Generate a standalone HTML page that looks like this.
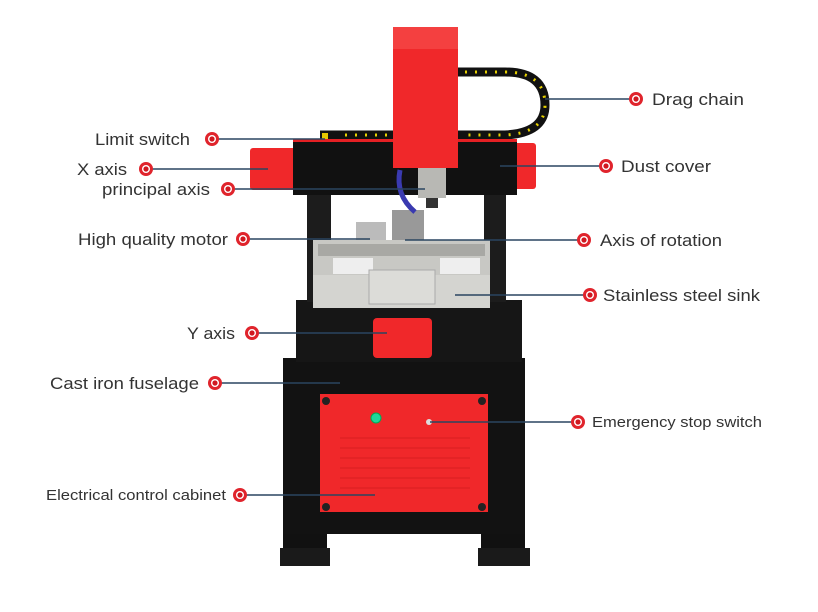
<!DOCTYPE html>
<html><head><meta charset="utf-8"><style>
html,body{margin:0;padding:0;background:#fff;}
svg{display:block}
text{font-family:"Liberation Sans",sans-serif;fill:#333;}
</style></head><body>
<svg width="818" height="612" viewBox="0 0 818 612" xmlns="http://www.w3.org/2000/svg">
<defs>
<g id="m"><circle r="7" fill="#e0242c"/><circle r="4" fill="#fff"/><circle r="2.6" fill="#d01820"/></g>
</defs>
<rect x="283" y="520" width="44" height="44" fill="#111"/>
<rect x="481" y="520" width="44" height="44" fill="#111"/>
<rect x="280" y="548" width="50" height="18" fill="#1a1a1a"/>
<rect x="478" y="548" width="52" height="18" fill="#1a1a1a"/>
<rect x="283" y="358" width="242" height="176" fill="#121212"/>
<rect x="320" y="394" width="168" height="118" fill="#f0282a"/>
<g stroke="#d81e20" stroke-width="1">
<line x1="340" y1="438" x2="470" y2="438"/><line x1="340" y1="448" x2="470" y2="448"/>
<line x1="340" y1="458" x2="470" y2="458"/><line x1="340" y1="468" x2="470" y2="468"/>
<line x1="340" y1="478" x2="470" y2="478"/><line x1="340" y1="488" x2="470" y2="488"/></g>
<circle cx="326" cy="401" r="4" fill="#222"/><circle cx="482" cy="401" r="4" fill="#222"/>
<circle cx="326" cy="507" r="4" fill="#222"/><circle cx="482" cy="507" r="4" fill="#222"/>
<circle cx="376" cy="418" r="5" fill="#1fd69a" stroke="#0a5" stroke-width="1"/>
<circle cx="429" cy="422" r="3" fill="#ddd"/>
<rect x="296" y="300" width="226" height="62" fill="#161616"/>
<rect x="373" y="318" width="59" height="40" rx="4" fill="#f0282a"/>
<rect x="307" y="192" width="24" height="110" fill="#1c1c1c"/>
<rect x="484" y="192" width="22" height="110" fill="#1c1c1c"/>
<rect x="356" y="222" width="30" height="40" fill="#bbb"/>
<rect x="392" y="210" width="32" height="50" fill="#999"/>
<rect x="376" y="250" width="60" height="34" fill="#2a5a3a"/>
<circle cx="403" cy="258" r="13" fill="none" stroke="#eee" stroke-width="4"/>
<rect x="313" y="240" width="177" height="68" fill="#c8c8c4"/>
<rect x="318" y="244" width="167" height="12" fill="#a8a8a4"/>
<rect x="333" y="258" width="40" height="16" fill="#eee"/>
<rect x="440" y="258" width="40" height="16" fill="#eee"/>
<rect x="313" y="275" width="177" height="33" fill="#d4d4d0"/>
<rect x="369" y="270" width="66" height="34" fill="#dcdcd8" stroke="#aaa" stroke-width="1"/>
<path d="M455 72 L505 72 Q545 72 545 105 Q545 133 505 135 L455 135" fill="none" stroke="#111" stroke-width="9"/>
<path d="M465 72 L505 72 Q545 72 545 105 Q545 133 505 135 L465 135" fill="none" stroke="#e6d000" stroke-width="3" stroke-dasharray="2 8"/>
<path d="M320 135 L395 135" stroke="#111" stroke-width="9"/>
<path d="M345 135 L395 135" stroke="#e6d000" stroke-width="3" stroke-dasharray="2 8"/>
<rect x="322" y="133" width="6" height="6" fill="#e6c800"/>
<rect x="250" y="148" width="48" height="42" rx="3" fill="#f0282a"/>
<rect x="512" y="143" width="24" height="46" rx="3" fill="#f0282a"/>
<rect x="293" y="139" width="224" height="56" fill="#111"/>
<rect x="293" y="139" width="224" height="3" fill="#e52024"/>
<rect x="418" y="166" width="28" height="32" fill="#b8b8b4"/>
<rect x="426" y="198" width="12" height="10" fill="#333"/>
<path d="M400 170 Q395 195 415 212" fill="none" stroke="#3a3ab0" stroke-width="5"/>
<rect x="393" y="27" width="65" height="141" fill="#f0282a"/>
<rect x="393" y="27" width="65" height="22" fill="#f44040"/>
<g stroke="#2a4560" stroke-width="1.6">
<line x1="545" y1="99" x2="630" y2="99"/>
<line x1="218" y1="139" x2="325" y2="139"/>
<line x1="152" y1="169" x2="268" y2="169"/>
<line x1="234" y1="189" x2="425" y2="189"/>
<line x1="249" y1="239" x2="370" y2="239"/>
<line x1="258" y1="333" x2="387" y2="333"/>
<line x1="221" y1="383" x2="340" y2="383"/>
<line x1="246" y1="495" x2="375" y2="495"/>
<line x1="500" y1="166" x2="600" y2="166"/>
<line x1="405" y1="240" x2="578" y2="240"/>
<line x1="455" y1="295" x2="584" y2="295"/>
<line x1="430" y1="422" x2="572" y2="422"/>
</g>
<use href="#m" x="636" y="99"/><use href="#m" x="212" y="139"/><use href="#m" x="146" y="169"/>
<use href="#m" x="228" y="189"/><use href="#m" x="243" y="239"/><use href="#m" x="252" y="333"/>
<use href="#m" x="215" y="383"/><use href="#m" x="240" y="495"/><use href="#m" x="606" y="166"/>
<use href="#m" x="584" y="240"/><use href="#m" x="590" y="295"/><use href="#m" x="578" y="422"/>
<g lengthAdjust="spacingAndGlyphs">
<text x="652" y="105" font-size="17" textLength="92" lengthAdjust="spacingAndGlyphs">Drag chain</text>
<text x="95" y="145" font-size="17" textLength="95" lengthAdjust="spacingAndGlyphs">Limit switch</text>
<text x="77" y="175" font-size="17" textLength="50" lengthAdjust="spacingAndGlyphs">X axis</text>
<text x="102" y="195" font-size="17" textLength="108" lengthAdjust="spacingAndGlyphs">principal axis</text>
<text x="78" y="245" font-size="17" textLength="150" lengthAdjust="spacingAndGlyphs">High quality motor</text>
<text x="187" y="339" font-size="17" textLength="48" lengthAdjust="spacingAndGlyphs">Y axis</text>
<text x="50" y="389" font-size="17" textLength="149" lengthAdjust="spacingAndGlyphs">Cast iron fuselage</text>
<text x="46" y="500" font-size="14.5" textLength="180" lengthAdjust="spacingAndGlyphs">Electrical control cabinet</text>
<text x="621" y="172" font-size="17" textLength="90" lengthAdjust="spacingAndGlyphs">Dust cover</text>
<text x="600" y="246" font-size="17" textLength="122" lengthAdjust="spacingAndGlyphs">Axis of rotation</text>
<text x="603" y="301" font-size="17" textLength="157" lengthAdjust="spacingAndGlyphs">Stainless steel sink</text>
<text x="592" y="427" font-size="15" textLength="170" lengthAdjust="spacingAndGlyphs">Emergency stop switch</text>
</g>
</svg>
</body></html>
